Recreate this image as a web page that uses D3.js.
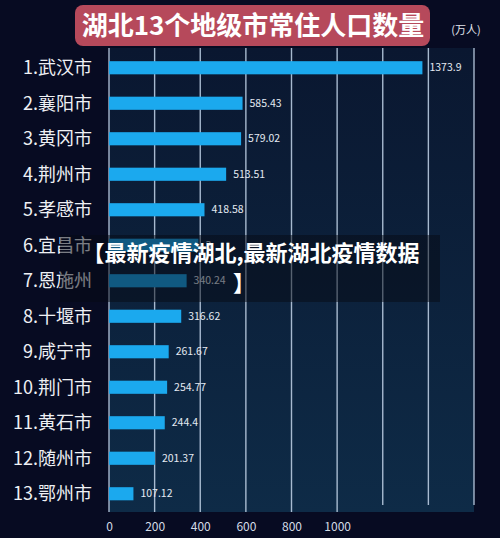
<!DOCTYPE html>
<html><head><meta charset="utf-8">
<script src="https://cdn.jsdelivr.net/npm/d3@7/dist/d3.min.js"></script>
<style>body{margin:0;background:#070b22;}svg{display:block;}</style>
</head><body>
<svg id="c" width="500" height="538"></svg>
<script>
const cities = ["1.武汉市","2.襄阳市","3.黄冈市","4.荆州市","5.孝感市","6.宜昌市","7.恩施州","8.十堰市","9.咸宁市","10.荆门市","11.黄石市","12.随州市","13.鄂州市"];
const values = [1373.9,585.43,579.02,513.51,418.58,392.0,340.24,316.62,261.67,254.77,244.4,201.37,107.12];
const valueLabels = ["1373.9","585.43","579.02","513.51","418.58","3","340.24","316.62","261.67","254.77","244.4","201.37","107.12"];
const gridTicks = [0,200,400,600,800,1000,1200,1400,1600];
const labelTicks = [0,200,400,600,800,1000];
const title = "湖北13个地级市常住人口数量";
const unit = "(万人)";
const overlayLines = ["【最新疫情湖北,最新湖北疫情数据","】"];

const svg = d3.select("#c");
const font = "'Noto Sans CJK SC','Noto Sans',sans-serif";
const x = d3.scaleLinear().domain([0,1600]).range([109,474]);
const y = d3.scaleBand().domain(cities).range([50,511.5]).paddingInner(0.63).paddingOuter(0.315);

const defs = svg.append("defs");
const g1 = defs.append("linearGradient").attr("id","pg").attr("x1",0).attr("y1",0).attr("x2",0).attr("y2",1);
g1.append("stop").attr("offset","0%").attr("stop-color","#0a1730");
g1.append("stop").attr("offset","100%").attr("stop-color","#0e2b47");

svg.append("rect").attr("width",500).attr("height",538).attr("fill","#070b22");
svg.append("rect").attr("x",x(0)).attr("y",48).attr("width",x(1600)-x(0)).attr("height",464).attr("fill","url(#pg)");

// grid
svg.append("g").selectAll("line").data(gridTicks).join("line")
  .attr("x1",d=>x(d)).attr("x2",d=>x(d))
  .attr("y1",48).attr("y2",d=>d>1000?505:512)
  .attr("stroke","#b9cbe0").attr("stroke-width",1.4).attr("opacity",0.9);

// axis labels
const ax = svg.append("g").attr("transform","translate(0,512)")
  .call(d3.axisBottom(x).tickValues(labelTicks).tickSize(0).tickPadding(10).tickFormat(d3.format("d")));
ax.select(".domain").remove();
ax.selectAll("text").attr("fill","#d3dbe6").attr("font-size",12).attr("font-family",font);

// bars
svg.append("g").selectAll("rect").data(values).join("rect")
  .attr("x",x(0)).attr("y",(d,i)=>y(cities[i]))
  .attr("width",d=>x(d)-x(0)).attr("height",y.bandwidth())
  .attr("fill","#1ba9ee");

// value labels
svg.append("g").selectAll("text").data(values).join("text")
  .attr("x",d=>x(d)+7).attr("y",(d,i)=>y(cities[i])+y.bandwidth()/2)
  .attr("dy","0.35em").attr("fill","#e4eaf2").attr("font-size",10.5).attr("font-family",font)
  .text((d,i)=>valueLabels[i]);

// category labels
svg.append("g").selectAll("text").data(cities).join("text")
  .attr("x",92).attr("y",d=>y(d)+y.bandwidth()/2)
  .attr("dy","0.36em").attr("text-anchor","end").attr("fill","#eef0f4")
  .attr("font-size",18).attr("font-family",font)
  .text(d=>d);

// title
svg.append("rect").attr("x",75).attr("y",5).attr("width",355).attr("height",41).attr("rx",8).attr("fill","#b6495b");
svg.append("text").attr("x",253).attr("y",26).attr("dy","0.36em").attr("text-anchor","middle")
  .attr("fill","#ffffff").attr("font-size",26).attr("font-weight","bold").attr("font-family",font).text(title);
svg.append("text").attr("x",466).attr("y",30).attr("dy","0.35em").attr("text-anchor","middle")
  .attr("fill","#e0e4ec").attr("font-size",11).attr("font-family",font).text(unit);

// overlay
svg.append("rect").attr("x",60).attr("y",235).attr("width",380).attr("height",67).attr("fill","#050a14").attr("opacity",0.5);
svg.append("g").selectAll("text").data(overlayLines).join("text")
  .attr("x",(d,i)=>i===0?251:244).attr("y",(d,i)=>253+i*30).attr("dy","0.36em").attr("text-anchor","middle")
  .attr("fill","#ffffff").attr("font-size",22).attr("font-weight","bold").attr("font-family",font)
  .text(d=>d);
</script>
</body></html>
